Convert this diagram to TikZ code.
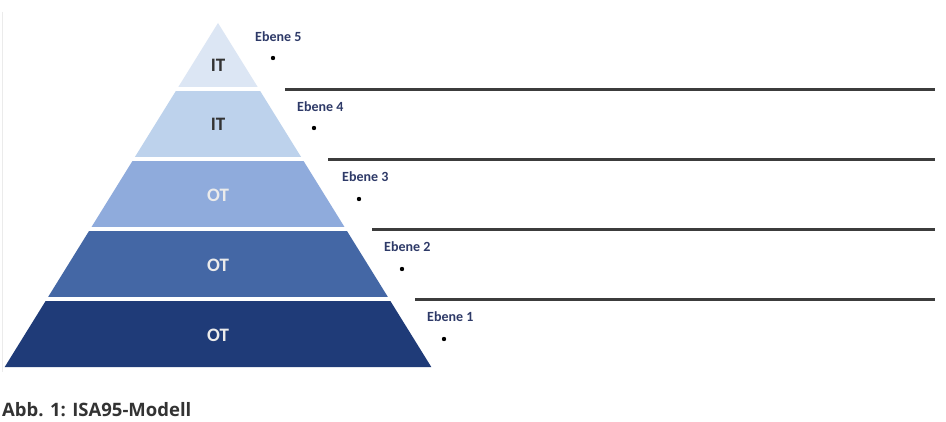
\documentclass[tikz,border=0pt]{standalone}
\usepackage{fontspec}
\setmainfont{Carlito}
\newfontfamily\capfont{Open Sans}
\definecolor{layFive}{HTML}{DCE6F4}
\definecolor{layFour}{HTML}{BDD2EC}
\definecolor{layThree}{HTML}{8FABDC}
\definecolor{layTwo}{HTML}{4467A5}
\definecolor{layOne}{HTML}{1F3B78}
\definecolor{navy}{HTML}{2E3A68}
\definecolor{sepgray}{HTML}{3C3C3C}

\begin{document}
\begin{tikzpicture}[
    x=1pt, y=-1pt,
    darktxt/.style={font=\fontsize{19}{22}\selectfont\bfseries, text=black!80},
    lighttxt/.style={font=\fontsize{19}{22}\selectfont\bfseries, text=white!92!black},
    ebene/.style={anchor=west, inner sep=0pt, font=\fontsize{14}{16}\selectfont\bfseries, text=navy},
    dot/.style={circle, fill=black, inner sep=0pt, minimum size=4.4pt},
    sep/.style={draw=sepgray, line width=2.4pt}
]
\useasboundingbox[fill=white] (0,0) rectangle (946,422);

% Frame line of the picture
\draw[black!8, line width=0.8pt] (2.5,12) -- (2.5,372);

% Pyramid outline points
\coordinate (apex) at (218,23);
\coordinate (baseL) at (4.7,367);
\coordinate (baseR) at (431.3,367);

% Layer 5
\begin{scope}
  \clip (0,20) rectangle (946,87);
  \fill[layFive] (apex) -- (baseR) -- (baseL) -- cycle;
\end{scope}
\node[darktxt] (lay5) at (218,65) {IT};

% Layer 4
\begin{scope}
  \clip (0,92) rectangle (946,157);
  \fill[layFour] (apex) -- (baseR) -- (baseL) -- cycle;
\end{scope}
\node[darktxt] (lay4) at (218,124) {IT};

% Layer 3
\begin{scope}
  \clip (0,162) rectangle (946,227);
  \fill[layThree] (apex) -- (baseR) -- (baseL) -- cycle;
\end{scope}
\node[lighttxt] (lay3) at (218,195) {OT};

% Layer 2
\begin{scope}
  \clip (0,232) rectangle (946,297);
  \fill[layTwo] (apex) -- (baseR) -- (baseL) -- cycle;
\end{scope}
\node[lighttxt] (lay2) at (218,265) {OT};

% Layer 1
\begin{scope}
  \clip (0,302) rectangle (946,367);
  \fill[layOne] (apex) -- (baseR) -- (baseL) -- cycle;
\end{scope}
\node[lighttxt] (lay1) at (218,335) {OT};

% Labels
\node[ebene] (eb5) at (255,37) {Ebene 5};
\node[dot] (dot5) at (273,58) {};
\node[ebene] (eb4) at (297,107) {Ebene 4};
\node[dot] (dot4) at (314,128) {};
\node[ebene] (eb3) at (342,177) {Ebene 3};
\node[dot] (dot3) at (359,199) {};
\node[ebene] (eb2) at (384,247) {Ebene 2};
\node[dot] (dot2) at (402,269) {};
\node[ebene] (eb1) at (427,317) {Ebene 1};
\node[dot] (dot1) at (444,339) {};

% Separators
\coordinate (s4a) at (285,89.5);   \coordinate (s4b) at (935,89.5);
\coordinate (s3a) at (328,159.5);  \coordinate (s3b) at (935,159.5);
\coordinate (s2a) at (372,229.5);  \coordinate (s2b) at (935,229.5);
\coordinate (s1a) at (415,299.5);  \coordinate (s1b) at (935,299.5);
\draw[sep] (s4a) -- (s4b);
\draw[sep] (s3a) -- (s3b);
\draw[sep] (s2a) -- (s2b);
\draw[sep] (s1a) -- (s1b);

% Caption
\node[anchor=west, inner sep=0pt, font=\capfont\fontsize{18.5}{22}\selectfont\bfseries, text=black!80] (cap) at (2,410) {Abb. 1: ISA95-Modell};

\end{tikzpicture}
\end{document}
